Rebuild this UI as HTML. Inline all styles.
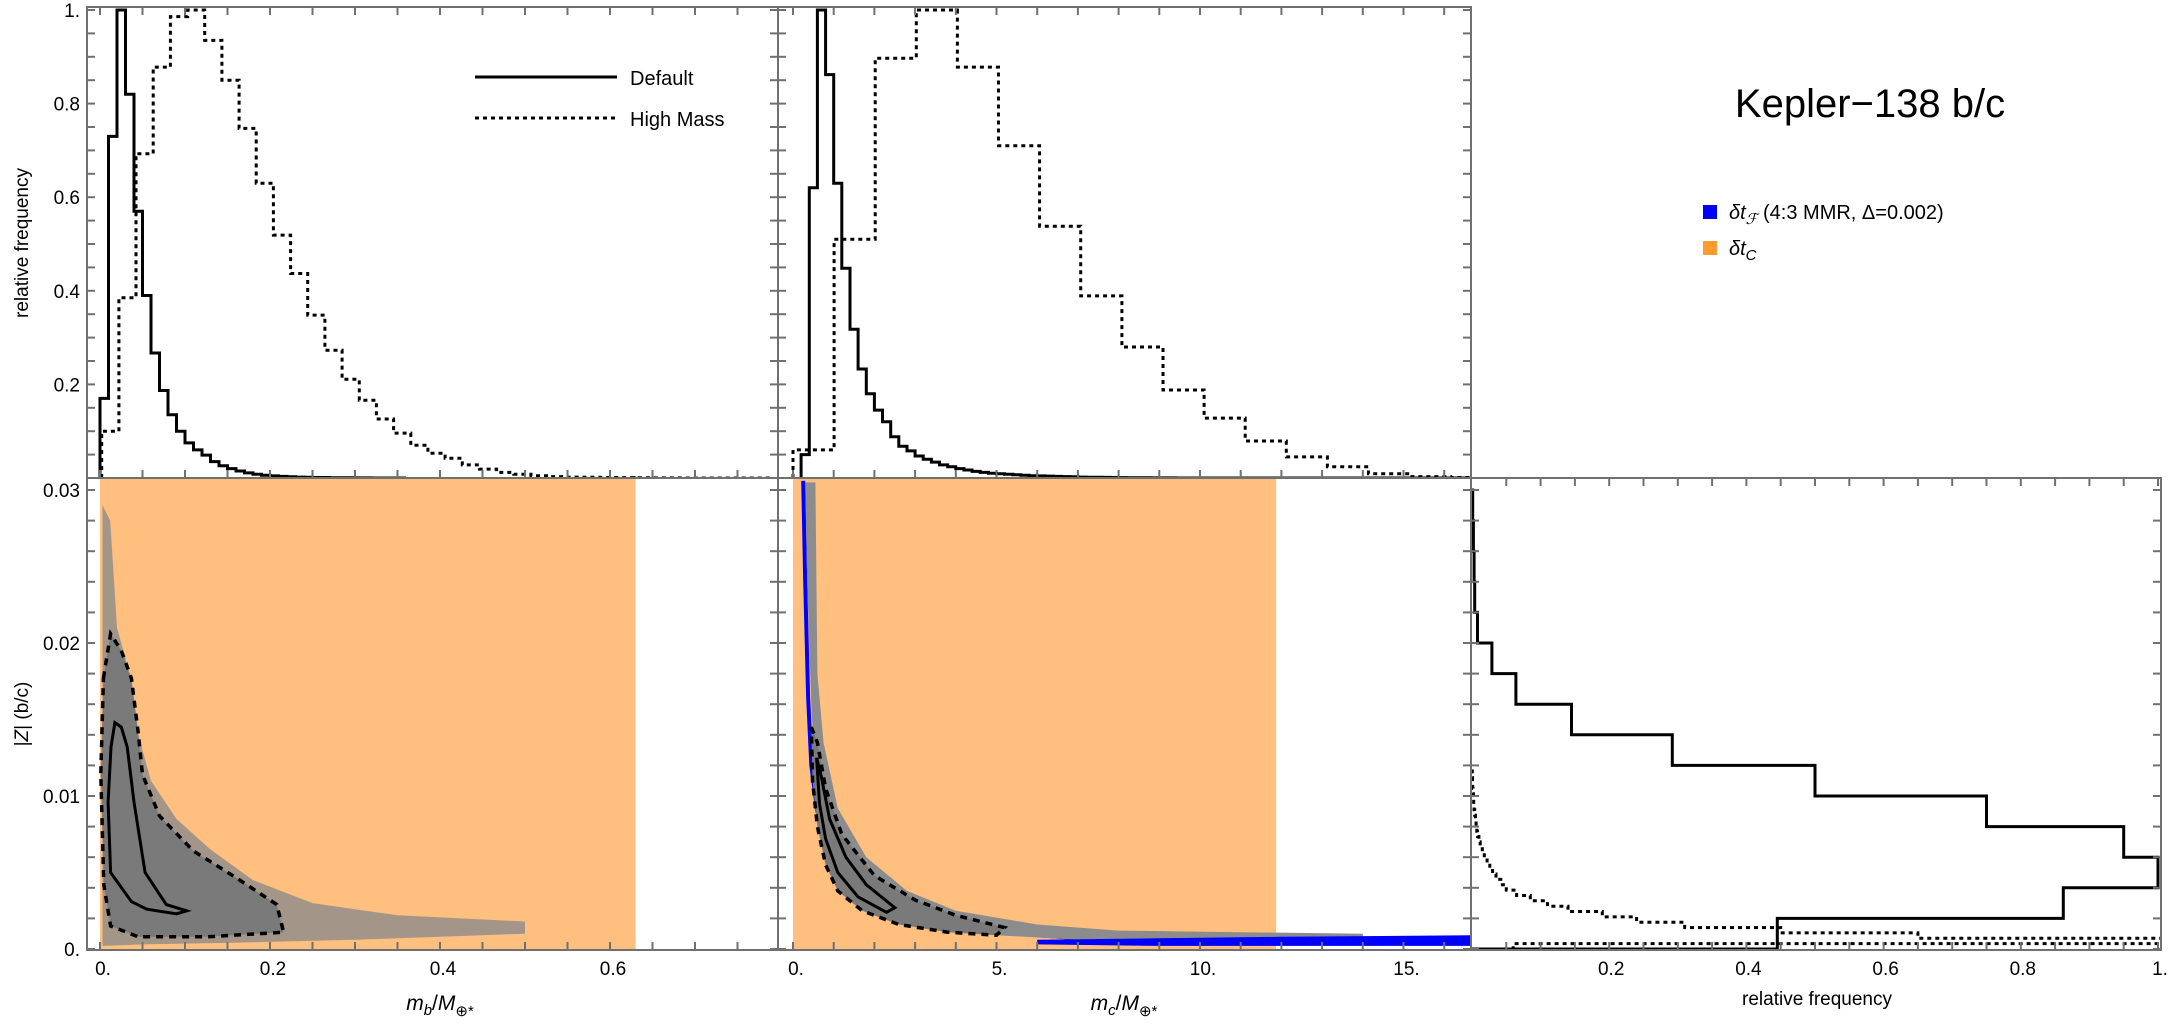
<!DOCTYPE html>
<html><head><meta charset="utf-8"><title>Kepler-138 b/c</title>
<style>
html,body{margin:0;padding:0;background:#fff;}
svg{display:block;font-family:"Liberation Sans",sans-serif;}
</style></head>
<body>
<svg id="fig" xmlns="http://www.w3.org/2000/svg" width="2169" height="1027" viewBox="0 0 2169 1027">
  <defs>
    <clipPath id="clipTL"><rect x="87" y="7" width="691" height="471"/></clipPath>
    <clipPath id="clipTM"><rect x="778" y="7" width="693" height="471"/></clipPath>
    <clipPath id="clipBL"><rect x="87" y="478" width="691" height="472"/></clipPath>
    <clipPath id="clipBM"><rect x="778" y="478" width="693" height="472"/></clipPath>
    <clipPath id="clipBR"><rect x="1471" y="478" width="690" height="472"/></clipPath>
  </defs>
  <g id="layer-fill"></g>
  <g id="layer-marks"></g>
  <g id="layer-axes"></g>
  <g id="layer-text">
    <text x="1870" y="117" font-size="40" text-anchor="middle" fill="#000">Kepler−138 b/c</text>
    <rect x="1703" y="205" width="14" height="14" fill="#0000ff"/>
    <text x="1729" y="219" font-size="20"><tspan font-style="italic">δt</tspan><tspan font-style="italic" font-size="15" dy="5">ℱ</tspan><tspan dy="-5"> (4:3 MMR, Δ=0.002)</tspan></text>
    <rect x="1703" y="241" width="14" height="14" fill="#ff9a2e"/>
    <text x="1729" y="255" font-size="20"><tspan font-style="italic">δt</tspan><tspan font-style="italic" font-size="15" dy="5">C</tspan></text>

    <line x1="475" y1="77" x2="617" y2="77" stroke="#000" stroke-width="3"/>
    <text x="630" y="85" font-size="20">Default</text>
    <line x1="475" y1="118" x2="617" y2="118" stroke="#000" stroke-width="3" stroke-dasharray="4,4"/>
    <text x="630" y="126" font-size="20">High Mass</text>

    <text transform="translate(28,243) rotate(-90)" font-size="19" text-anchor="middle">relative frequency</text>
    <text transform="translate(28,714) rotate(-90)" font-size="19" text-anchor="middle">|<tspan font-style="italic">Z</tspan>| (b/c)</text>
    <text x="440" y="1010" font-size="21" text-anchor="middle"><tspan font-style="italic">m</tspan><tspan font-style="italic" font-size="15" dy="5">b</tspan><tspan dy="-5">/</tspan><tspan font-style="italic">M</tspan><tspan font-size="15" dy="6">⊕*</tspan></text>
    <text x="1124" y="1010" font-size="21" text-anchor="middle"><tspan font-style="italic">m</tspan><tspan font-style="italic" font-size="15" dy="5">c</tspan><tspan dy="-5">/</tspan><tspan font-style="italic">M</tspan><tspan font-size="15" dy="6">⊕*</tspan></text>
    <text x="1817" y="1005" font-size="19" text-anchor="middle">relative frequency</text>
  </g>
</svg>
<script>
// ---------- data ----------
const tlSolidStart = 0, tlSolidWidth = 0.01;
const tlSolid = [0.17,0.73,1.0,0.82,0.57,0.39,0.267,0.187,0.135,0.10,0.075,0.06,0.049,0.035,0.026,0.02,0.015,0.011,0.008,0.006,0.0045,0.0035,0.0025,0.002,0.0015,0.001,0.001,0.0007,0.0005,0.0004,0.0003,0.0002,0.0001,0.0001,0.0001,0];
const tlDottedStart = 0.002, tlDottedWidth = 0.0202;
const tlDotted = [0.10,0.385,0.693,0.878,0.986,1.0,0.935,0.85,0.747,0.63,0.519,0.437,0.348,0.273,0.211,0.166,0.126,0.096,0.07,0.053,0.042,0.028,0.019,0.012,0.008,0.005,0.003,0.002,0.0015,0.001,0.0008,0.0005,0.0003,0.0002,0.0001,0.0001,0.0001,0.0001,0.0001];
const tmSolidStart = 0.2, tmSolidWidth = 0.2;
const tmSolid = [0.05,0.62,1.0,0.862,0.63,0.448,0.318,0.233,0.18,0.145,0.12,0.088,0.068,0.058,0.047,0.04,0.034,0.028,0.024,0.02,0.017,0.014,0.012,0.01,0.009,0.008,0.007,0.006,0.005,0.0045,0.004,0.0035,0.003,0.0025,0.002,0.0018,0.0015,0.0012,0.001,0.0008,0.0006,0.0005,0.0004,0.0003,0.0002,0.0002,0.0001,0.0001,0.0001,0.0001,0.0001,0.0001,0.0001,0.0001,0.0001,0.0001,0.0001,0.0001,0.0001,0.0001,0.0001,0.0001,0.0001,0.0001,0.0001,0.0001,0.0001,0.0001,0.0001,0.0001,0.0001,0.0001,0.0001,0.0001,0.0001,0.0001,0.0001,0.0001,0.0001,0.0001,0.0001,0.0001];
const tmDottedStart = 0, tmDottedWidth = 1.01;
const tmDotted = [0.06,0.51,0.897,1.0,0.878,0.71,0.538,0.389,0.28,0.188,0.128,0.079,0.045,0.024,0.009,0.003,0.001];
const brSolidStart = 0, brSolidWidth = 0.002;
const brSolid = [0.445,0.862,1.0,0.95,0.75,0.50,0.292,0.145,0.064,0.029,0.008,0.004,0.003,0.002,0.001];
const brDottedStart = 0, brDottedWidth = 0.00035;
const brDotted = [0.06,1.05,0.65,0.45,0.31,0.24,0.19,0.14,0.11,0.085,0.065,0.05,0.042,0.035,0.03,0.026,0.022,0.018,0.015,0.012,0.010,0.008,0.007,0.006,0.005,0.004,0.003,0.0025,0.002,0.0015,0.001,0.0008,0.0005,0.0003];
// orange delta-tC regions (upper mass limits)
const blOrangeMax = 0.63, bmOrangeMax = 11.87;
// bottom-left cloud / contours (x = m_b, y = |Z|)
const blCloudX = [0.003,0.012,0.02,0.03,0.04,0.06,0.09,0.13,0.18,0.25,0.35,0.5,0.5,0.3,0.15,0.05,0.003];
const blCloudY = [0.029,0.028,0.021,0.019,0.015,0.011,0.0085,0.0065,0.0045,0.003,0.0022,0.0018,0.0010,0.0006,0.0004,0.0003,0.0002];
const blOuterX = [0.004,0.0125,0.025,0.037,0.045,0.05,0.07,0.11,0.159,0.208,0.216,0.126,0.045,0.0125,0.0045,0.001];
const blOuterY = [0.0177,0.0206,0.0195,0.0177,0.0141,0.0114,0.0087,0.0064,0.0047,0.0029,0.0011,0.0008,0.0008,0.0015,0.0042,0.0114];
const blInnerX = [0.013,0.0175,0.025,0.032,0.04,0.053,0.078,0.102,0.09,0.055,0.037,0.0125,0.0095];
const blInnerY = [0.0132,0.0148,0.0145,0.0132,0.0096,0.005,0.0029,0.0025,0.0023,0.0026,0.0031,0.005,0.0096];
// bottom-middle cloud / contours / blue resonance curve (x = m_c)
const bmCloudX = [0.3,0.55,0.6,0.75,1.1,1.8,2.8,4,6,8,11,14,14,10,7,5,3.5,2.5,1.5,1.0,0.7,0.55,0.45,0.35];
const bmCloudY = [0.0305,0.0305,0.018,0.0135,0.0092,0.006,0.0038,0.0025,0.0016,0.0012,0.0011,0.001,0.0004,0.0004,0.0006,0.0009,0.0014,0.0021,0.0035,0.005,0.0075,0.011,0.016,0.024];
const bmOuterX = [0.45,0.6,0.8,1.2,2,3,4,5.2,5.0,3.8,2.6,1.7,1.1,0.8,0.6,0.48];
const bmOuterY = [0.0145,0.0135,0.0105,0.0075,0.0048,0.0032,0.0022,0.0014,0.0009,0.0011,0.0016,0.0025,0.0038,0.0055,0.008,0.011];
const bmInnerX = [0.58,0.7,0.9,1.3,1.8,2.5,2.3,1.6,1.1,0.8,0.65];
const bmInnerY = [0.0125,0.0112,0.0085,0.006,0.0042,0.0027,0.0024,0.0034,0.005,0.0072,0.0095];
const blueX = [0.25,0.3,0.37,0.45,0.6,1.0,2,4,6,8,10,13,16.7];
const blueY = [0.0306,0.024,0.0165,0.012,0.009,0.006,0.0035,0.0018,0.0009,0.0005,0.0004,0.00045,0.0005];
const blueBandX = [6,9,12,16.7,16.7,12,9,6];
const blueBandY = [0.0006,0.0007,0.0008,0.0009,0.0002,0.0002,0.0002,0.0003];
// tick labels
const tlYTicks = [0.2,0.4,0.6,0.8,1.0];
const tlYLabels = ["0.2","0.4","0.6","0.8","1."];
const blYTicks = [0,0.01,0.02,0.03];
const blYLabels = ["0.","0.01","0.02","0.03"];
const blXTicks = [0,0.2,0.4,0.6];
const blXLabels = ["0.","0.2","0.4","0.6"];
const bmXTicks = [0,5,10,15];
const bmXLabels = ["0.","5.","10.","15."];
const brXTicks = [0.2,0.4,0.6,0.8,1.0];
const brXLabels = ["0.2","0.4","0.6","0.8","1."];

// ---------- axis functions ----------
const xL = v => 100 + v*850;
const xM = v => 793 + v*40.7;
const xR = v => 1472 + v*686;
const yT = v => 478 - v*468;
const yB = v => 949 - v*15300;
const NS = "http://www.w3.org/2000/svg";
const fillLayer = document.getElementById('layer-fill');
const markLayer = document.getElementById('layer-marks');
const axisLayer = document.getElementById('layer-axes');

function mk(tag, attrs, parent){
  const e = document.createElementNS(NS, tag);
  for (const k in attrs) e.setAttribute(k, attrs[k]);
  parent.appendChild(e);
  return e;
}
function vHist(start, w, vals, fx, fy){
  let d = 'M'+fx(start).toFixed(1)+','+fy(0).toFixed(1);
  vals.forEach((v,i)=>{
    d += ' V'+fy(v).toFixed(1)+' H'+fx(start+(i+1)*w).toFixed(1);
  });
  d += ' V'+fy(0).toFixed(1);
  return d;
}
function hHist(start, w, vals, fx, fy){
  let d = 'M'+fx(0).toFixed(1)+','+fy(start).toFixed(1);
  vals.forEach((v,i)=>{
    d += ' H'+fx(v).toFixed(1)+' V'+fy(start+(i+1)*w).toFixed(1);
  });
  d += ' H'+fx(0).toFixed(1);
  return d;
}
function poly(xs, ys, fx, fy, close){
  let d = '';
  xs.forEach((x,i)=>{ d += (i?' L':'M')+fx(x).toFixed(1)+','+fy(ys[i]).toFixed(1); });
  return d + (close ? ' Z' : '');
}

// ---------- orange regions ----------
let el;
el = mk('rect', {x: xL(0), y: 478, width: xL(blOrangeMax)-xL(0), height: 472, fill: '#ffbf7f'}, fillLayer);


el = mk('rect', {x: xM(0), y: 478, width: xM(bmOrangeMax)-xM(0), height: 472, fill: '#ffbf7f'}, fillLayer);



// blue resonance curve (beneath cloud)
el = mk('path', {d: poly(blueX, blueY, xM, yB, false), fill: 'none', stroke: '#0000ff', 'stroke-width': 4, 'clip-path': 'url(#clipBM)'}, fillLayer);



// ---------- clouds ----------
el = mk('path', {d: poly(blCloudX, blCloudY, xL, yB, true), fill: '#8c8c8c', 'fill-opacity': '0.8', 'clip-path': 'url(#clipBL)'}, fillLayer);


el = mk('path', {d: poly(blOuterX, blOuterY, xL, yB, true), fill: '#7a7a7a', 'clip-path': 'url(#clipBL)'}, fillLayer);


el = mk('path', {d: poly(bmCloudX, bmCloudY, xM, yB, true), fill: '#8c8c8c', 'clip-path': 'url(#clipBM)'}, fillLayer);


el = mk('path', {d: poly(bmOuterX, bmOuterY, xM, yB, true), fill: '#7a7a7a', 'clip-path': 'url(#clipBM)'}, fillLayer);



el = mk('path', {d: poly(blueBandX, blueBandY, xM, yB, true), fill: '#0000ff', 'clip-path': 'url(#clipBM)'}, markLayer);



// contours
el = mk('path', {d: poly(blOuterX, blOuterY, xL, yB, true), fill: 'none', stroke: '#000', 'stroke-width': 3.5, 'stroke-dasharray': '7,6'}, markLayer);


el = mk('path', {d: poly(blInnerX, blInnerY, xL, yB, true), fill: 'none', stroke: '#000', 'stroke-width': 3}, markLayer);


el = mk('path', {d: poly(bmOuterX, bmOuterY, xM, yB, true), fill: 'none', stroke: '#000', 'stroke-width': 3.5, 'stroke-dasharray': '7,6'}, markLayer);


el = mk('path', {d: poly(bmInnerX, bmInnerY, xM, yB, true), fill: 'none', stroke: '#000', 'stroke-width': 3}, markLayer);



// ---------- histograms ----------
el = mk('path', {d: vHist(tlSolidStart, tlSolidWidth, tlSolid, xL, yT), fill: 'none', stroke: '#000', 'stroke-width': 3, 'clip-path': 'url(#clipTL)'}, markLayer);


el = mk('path', {d: vHist(tlDottedStart, tlDottedWidth, tlDotted, xL, yT), fill: 'none', stroke: '#000', 'stroke-width': 3, 'stroke-dasharray': '4,4', 'clip-path': 'url(#clipTL)'}, markLayer);


el = mk('path', {d: vHist(tmSolidStart, tmSolidWidth, tmSolid, xM, yT), fill: 'none', stroke: '#000', 'stroke-width': 3, 'clip-path': 'url(#clipTM)'}, markLayer);


el = mk('path', {d: vHist(tmDottedStart, tmDottedWidth, tmDotted, xM, yT), fill: 'none', stroke: '#000', 'stroke-width': 3, 'stroke-dasharray': '4,4', 'clip-path': 'url(#clipTM)'}, markLayer);


el = mk('path', {d: hHist(brSolidStart, brSolidWidth, brSolid, xR, yB), fill: 'none', stroke: '#000', 'stroke-width': 3, 'clip-path': 'url(#clipBR)'}, markLayer);


el = mk('path', {d: hHist(brDottedStart, brDottedWidth, brDotted, xR, yB), fill: 'none', stroke: '#000', 'stroke-width': 3, 'stroke-dasharray': '4,4', 'clip-path': 'url(#clipBR)'}, markLayer);



// ---------- frames ----------
const frames = [
  ['frame-top-left', 87, 7, 691, 471],
  ['frame-top-middle', 778, 7, 693, 471],
  ['frame-bottom-left', 87, 478, 691, 472],
  ['frame-bottom-middle', 778, 478, 693, 472],
  ['frame-bottom-right', 1471, 478, 690, 472]
];
frames.forEach(f=>{
  const r = mk('rect', {x: f[1], y: f[2], width: f[3], height: f[4], fill: 'none', stroke: '#707070', 'stroke-width': 2}, axisLayer);
  
  
});

// ---------- ticks ----------
const tickAttrs = {stroke: '#707070', 'stroke-width': 2};
function tick(x1,y1,x2,y2){ mk('line', Object.assign({x1,y1,x2,y2}, tickAttrs), axisLayer); }
for (let i=0;i<=15;i++){ const v=i*0.05; const x=xL(v); if(x<778){ tick(x,7,x,15); tick(x,478,x,470); tick(x,950,x,942);} }
for (let i=0;i<=16;i++){ const x=xM(i); if(x<1471){ tick(x,7,x,15); tick(x,478,x,470); tick(x,950,x,942);} }
for (let i=1;i<=20;i++){ const x=xR(i*0.05); if(x<2161){ tick(x,478,x,486); tick(x,950,x,942);} }
for (let i=1;i<=20;i++){ const y=yT(i*0.05); tick(87,y,95,y); tick(770,y,786,y); tick(1463,y,1471,y); }
for (let i=0;i<=15;i++){ const y=yB(i*0.002); if(y>478){ tick(87,y,95,y); tick(770,y,786,y); tick(1463,y,1479,y); tick(2153,y,2161,y);} }

// ---------- tick labels ----------
function label(txt, x, y, anchor, name){
  const t = mk('text', {x, y, 'font-size': 19, 'text-anchor': anchor, fill: '#000'}, axisLayer);
  t.textContent = txt;
  
  
}
tlYTicks.forEach((v,i)=>label(tlYLabels[i], 80, yT(v)+7, 'end', 'y-tick-label-top'));
blYTicks.forEach((v,i)=>label(blYLabels[i], 80, yB(v)+7, 'end', 'y-tick-label-bottom'));
blXTicks.forEach((v,i)=>label(blXLabels[i], xL(v)+3, 975, 'middle', 'x-tick-label-mb'));
bmXTicks.forEach((v,i)=>label(bmXLabels[i], xM(v)+3, 975, 'middle', 'x-tick-label-mc'));
brXTicks.forEach((v,i)=>label(brXLabels[i], xR(v)+2, 975, 'middle', 'x-tick-label-frequency'));
</script>
</body></html>
